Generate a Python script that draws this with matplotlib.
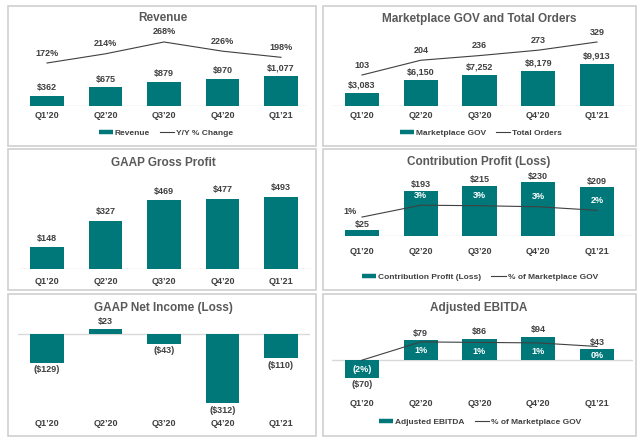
import matplotlib
matplotlib.use('Agg')
import matplotlib.pyplot as plt
from matplotlib.patches import Rectangle
from matplotlib.lines import Line2D
from matplotlib import transforms

plt.rcParams['font.family'] = ['Liberation Sans', 'DejaVu Sans']
plt.rcParams['font.weight'] = 'bold'

TEAL = '#00787A'
DARK = '#404040'
TITLE_C = '#595959'
BASE_C = '#d9d9d9'
BOX_C = '#d0d0d0'

W, H = 640, 443

quarters = ["Q1’20", "Q2’20", "Q3’20", "Q4’20", "Q1’21"]
revenue = [362, 675, 879, 970, 1077]
revenue_yoy = [172, 214, 268, 226, 198]
gov = [3083, 6150, 7252, 8179, 9913]
orders = [103, 204, 236, 273, 329]
gross_profit = [148, 327, 469, 477, 493]
contrib = [25, 193, 215, 230, 209]
contrib_pct = [0.8, 3.1, 3.0, 2.8, 2.1]
net_income = [-129, 23, -43, -312, -110]
ebitda = [-70, 79, 86, 94, 43]
ebitda_pct = [-2.3, 1.3, 1.2, 1.1, 0.4]

fig = plt.figure(figsize=(6.4, 4.43), dpi=100)


def fx(px):
    return px / W


def fy(py):
    return 1 - py / H


def money(v):
    s = f"${abs(v):,}"
    return f"({s})" if v < 0 else s


def pct(v):
    s = f"{abs(round(v)):.0f}%"
    return f"({s})" if round(v) < 0 else s


def box(x0, y0, x1, y1):
    fig.patches.append(Rectangle((fx(x0), fy(y1)), fx(x1) - fx(x0), fy(y0) - fy(y1),
                                 transform=fig.transFigure, fill=False,
                                 edgecolor=BOX_C, lw=1.2))


def rect(x0, x1, yt, yb):
    return [fx(x0), fy(yb), fx(x1) - fx(x0), fy(yt) - fy(yb)]


def bar_axes(x0, x1, yt, yb, c0, step, base, per_px):
    ax = fig.add_axes(rect(x0, x1, yt, yb))
    ax.set_xlim((x0 - c0) / step, (x1 - c0) / step)
    ax.set_ylim(-(yb - base) * per_px, (base - yt) * per_px)
    ax.axis('off')
    ax.axhline(0, color=BASE_C, lw=1, zorder=1)
    return ax


def line_axes(x0, x1, yt, yb, c0, step, v0, p0, k):
    ax = fig.add_axes(rect(x0, x1, yt, yb))
    ax.set_xlim((x0 - c0) / step, (x1 - c0) / step)
    ax.set_ylim(v0 + (p0 - yb) / k, v0 + (p0 - yt) / k)
    ax.axis('off')
    ax.patch.set_visible(False)
    return ax


def ticks(ax, y):
    tr = transforms.blended_transform_factory(ax.transData, fig.transFigure)
    for i, q in enumerate(quarters):
        fig.text(i, fy(y), q, transform=tr, ha='center', va='center',
                 fontsize=6.5, color=DARK)


def bar_labels(ax, vals, off):
    for i, v in enumerate(vals):
        dy = off if v >= 0 else -off
        ax.annotate(money(v), (i, v), xytext=(0, dy), textcoords='offset pixels',
                    ha='center', va='center', fontsize=6.5, color=DARK)


def title(x, y, s):
    fig.text(fx(x), fy(y), s, ha='center', va='center', fontsize=8.5,
             color=TITLE_C, fontweight='bold')


def legend(cx, cy, bar_lab, line_lab):
    handles = [Line2D([], [], color=TEAL, lw=3.2, solid_capstyle='butt'),
               Line2D([], [], color=DARK, lw=0.8)]
    fig.legend(handles, [bar_lab, line_lab], loc='center',
               bbox_to_anchor=(fx(cx), fy(cy)), ncol=2, frameon=False,
               fontsize=6, handlelength=1.7, handletextpad=0.25,
               columnspacing=1.2, labelcolor=DARK, borderpad=0)


x = range(len(quarters))
bw = 0.58

# panel boxes
box(8, 6, 316, 146)
box(323, 6, 636, 146)
box(8, 149, 316, 290)
box(323, 149, 636, 290)
box(8, 294, 316, 436)
box(323, 294, 636, 436)

# Revenue
ax = bar_axes(23, 307, 25, 106, 47, 58.5, 106, 35.9)
ax.bar(x, revenue, width=bw, color=TEAL, zorder=2)
bar_labels(ax, revenue, 8)
lx = line_axes(23, 307, 25, 106, 47, 58.5, 172, 63, 0.219)
lx.plot(x, revenue_yoy, color=DARK, lw=0.8)
for i, v in enumerate(revenue_yoy):
    lx.annotate(f"{v}%", (i, v), xytext=(0, 10), textcoords='offset pixels',
                ha='center', va='center', fontsize=6.5, color=DARK)
ticks(ax, 116)
title(163, 18, "Revenue")
legend(166, 133, "Revenue", "Y/Y % Change")

# Marketplace GOV and Total Orders
ax = bar_axes(332, 631, 25, 106, 362, 58.75, 106, 236)
ax.bar(x, gov, width=bw, color=TEAL, zorder=2)
bar_labels(ax, gov, 8)
lx = line_axes(332, 631, 25, 106, 362, 58.75, 103, 75, 0.146)
lx.plot(x, orders, color=DARK, lw=0.8)
for i, v in enumerate(orders):
    lx.annotate(f"{v}", (i, v), xytext=(0, 10), textcoords='offset pixels',
                ha='center', va='center', fontsize=6.5, color=DARK)
ticks(ax, 116)
title(479, 19, "Marketplace GOV and Total Orders")
legend(481, 133, "Marketplace GOV", "Total Orders")

# GAAP Gross Profit
ax = bar_axes(20, 312, 175, 269, 47, 58.5, 269, 6.8)
ax.bar(x, gross_profit, width=bw, color=TEAL, zorder=2)
bar_labels(ax, gross_profit, 9)
ticks(ax, 281)
title(163, 163, "GAAP Gross Profit")

# Contribution Profit (Loss)
ax = bar_axes(342, 632, 172, 236, 362, 58.75, 236, 4.27)
ax.bar(x, contrib, width=bw, color=TEAL, zorder=2)
bar_labels(ax, contrib, 6)
lx = line_axes(342, 632, 172, 236, 362, 58.75, 0.81, 217, 5.15)
lx.plot(x, contrib_pct, color=DARK, lw=0.8)
for i, v in enumerate(contrib_pct):
    if i == 0:
        lx.annotate(pct(v), (i, v), xytext=(-12, 6), textcoords='offset pixels',
                    ha='center', va='center', fontsize=6.5, color=DARK)
    else:
        lx.annotate(pct(v), (i, v), xytext=(0, 10), textcoords='offset pixels',
                    ha='center', va='center', fontsize=6.5, color='white')
ticks(ax, 251)
title(479, 162, "Contribution Profit (Loss)")
legend(480, 277, "Contribution Profit (Loss)", "% of Marketplace GOV")

# GAAP Net Income (Loss)
ax = bar_axes(18, 310, 318, 412, 47, 58.5, 334, 4.5)
ax.bar(x, net_income, width=bw, color=TEAL, zorder=2)
bar_labels(ax, net_income, 7)
ticks(ax, 424)
title(163, 308, "GAAP Net Income (Loss)")

# Adjusted EBITDA
ax = bar_axes(332, 633, 322, 390, 362, 58.75, 360, 4.0)
ax.bar(x, ebitda, width=bw, color=TEAL, zorder=2)
bar_labels(ax, ebitda, 7)
lx = line_axes(332, 633, 322, 390, 362, 58.75, -2.27, 360, 5.07)
lx.plot(x, ebitda_pct, color=DARK, lw=0.8)
for i, v in enumerate(ebitda_pct):
    lx.annotate(pct(v), (i, v), xytext=(0, -9), textcoords='offset pixels',
                ha='center', va='center', fontsize=6.5, color='white')
ticks(ax, 403)
title(479, 308, "Adjusted EBITDA")
legend(480, 422, "Adjusted EBITDA", "% of Marketplace GOV")

fig.savefig('out.png', dpi=100, facecolor='white')
